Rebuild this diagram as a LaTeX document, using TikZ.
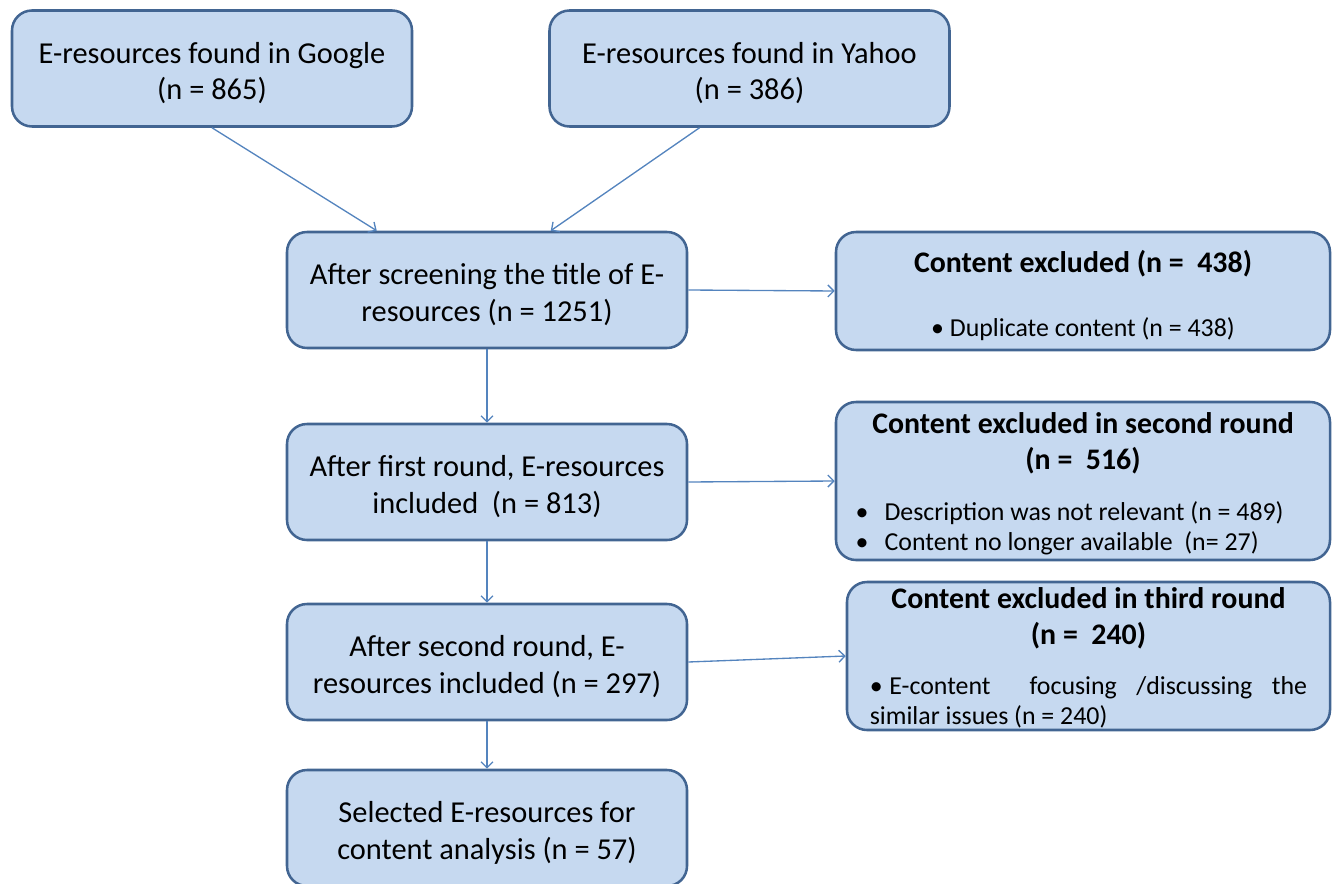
\documentclass[tikz,border=0pt]{standalone}
\usepackage{fontspec}
\setmainfont{Carlito}
\usetikzlibrary{arrows.meta,calc}

\definecolor{boxfill}{RGB}{198,217,240}
\definecolor{boxline}{RGB}{66,101,146}
\definecolor{linkcol}{RGB}{84,132,190}

\newcommand{\boxfont}{\fontsize{22.8}{27.5}\selectfont}
\newcommand{\extitle}{\fontsize{22.4}{27}\selectfont\bfseries}
\newcommand{\exbody}{\fontsize{19.4}{22.5}\selectfont}
\newcommand{\nodestart}{\spaceskip=0pt\xspaceskip=0pt}
\newcommand{\nodeend}{\par\vspace{-7pt}}

\begin{document}
\begin{tikzpicture}[x=0.75pt,y=0.75pt,yscale=-1,xscale=1,
    box/.style={draw=boxline, fill=boxfill, line width=1.9pt, rounded corners=15pt,
        minimum width=300pt, minimum height=87pt, inner sep=0pt, text width=295pt,
        align=flush center, font=\boxfont,
        execute at begin node=\nodestart, execute at end node=\nodeend},
    exbox/.style={box, minimum width=370.5pt, text width=362pt},
    link/.style={draw=linkcol, line width=1pt, -{Straight Barb[length=4.5pt,width=9pt]}}]
\useasboundingbox (0,0) rectangle (1338,884);

%Rounded Rect
\node[box] (google) at (212,68.5) {E-resources found in Google\\(n = 865)};
%Rounded Rect
\node[box] (yahoo) at (749.5,68.5) {E-resources found in Yahoo\\(n = 386)};
%Rounded Rect
\node[box] (screen) at (487,290) {After screening the title of E-\\resources (n = 1251)};
%Rounded Rect
\node[box] (first) at (487,482) {After first round, E-resources\\included\ \ (n = 813)};
%Rounded Rect
\node[box] (second) at (487,662) {After second round, E-\\resources included (n = 297)};
%Rounded Rect
\node[box] (selected) at (487,828) {Selected E-resources for\\content analysis (n = 57)};

%Rounded Rect
\node[exbox, minimum height=88.5pt] (exfirst) at (1083,291)
    {{\extitle Content excluded (n =\ \ 438)\par}\vspace{25pt}
     {\exbody\textbullet\ Duplicate content (n = 438)\par}};
%Rounded Rect
\node[exbox, minimum height=118.5pt] (exsecond) at (1083,481)
    {{\extitle Content excluded in second round\\(n =\ \ 516)\par}\vspace{18pt}
     {\exbody\begin{tabular}{@{}l@{}}
       \textbullet\hspace{12pt}Description was not relevant (n = 489)\\
       \textbullet\hspace{12pt}Content no longer available\ \ (n= 27)
     \end{tabular}\hspace*{20pt}\par}};
%Rounded Rect
\node[exbox, minimum width=362.25pt, minimum height=111pt] (exthird) at (1088.5,656)
    {{\extitle Content excluded in third round\\(n =\ \ 240)\par}\vspace{17pt}
     {\exbody\begin{tabular}{@{}l@{}}
       \makebox[328pt][s]{\textbullet\kern5pt E-content\ \ focusing /discussing the}\\
       similar issues (n = 240)
     \end{tabular}\par}};

%Straight Lines
\draw[link] (google.south) -- ($(screen.north west)+(91,0)$);
%Straight Lines
\draw[link] ($(yahoo.south)+(-50,0)$) -- ($(screen.north west)+(265,0)$);
%Straight Lines
\draw[link] (screen.east) -- (exfirst.west);
%Straight Lines
\draw[link] (first.east) -- (exsecond.west);
%Straight Lines
\draw[link] (second.east) -- (exthird.west);
%Straight Lines
\draw[link] (screen.south) -- (first.north);
%Straight Lines
\draw[link] (first.south) -- (second.north);
%Straight Lines
\draw[link] (second.south) -- (selected.north);
\end{tikzpicture}
\end{document}
